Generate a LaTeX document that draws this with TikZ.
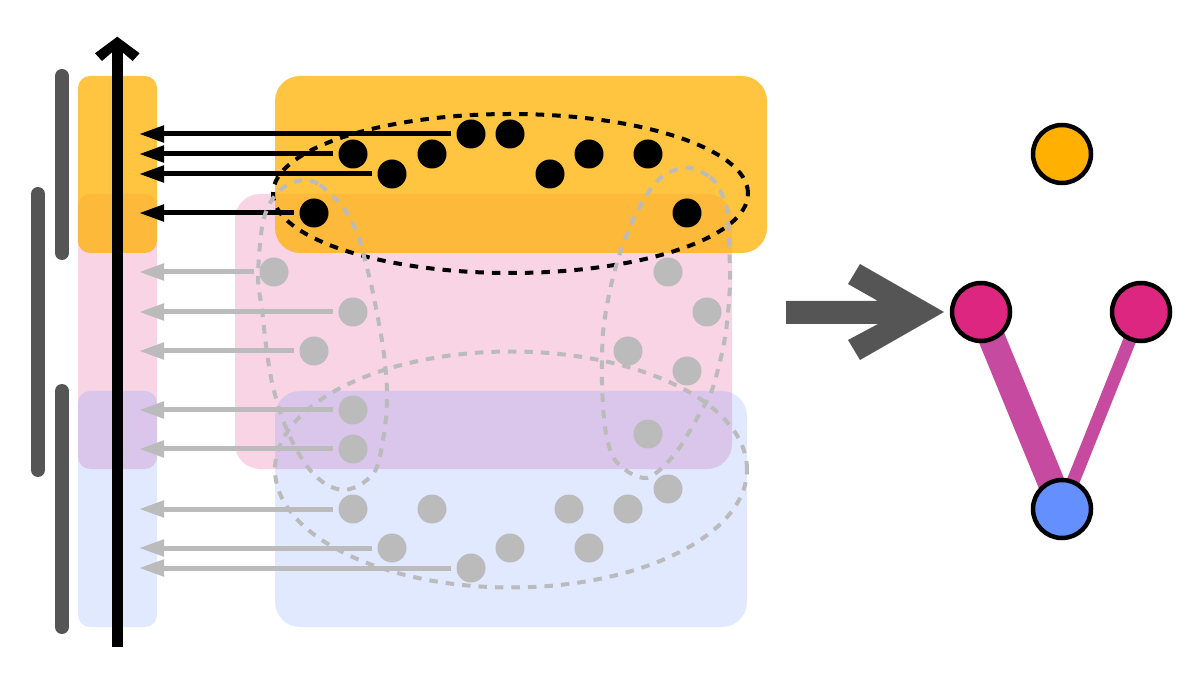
\documentclass[tikz,border=0pt]{standalone}
\usetikzlibrary{arrows.meta}
\definecolor{cOrange}{HTML}{FFB000}
\definecolor{cPink}{HTML}{DC267F}
\definecolor{cBlue}{HTML}{648FFF}
\definecolor{cGray}{HTML}{BBBBBB}
\definecolor{cDark}{HTML}{555555}
\definecolor{cEdge}{HTML}{C54AA0}
\tikzset{
  boxO/.style={fill=cOrange, fill opacity=0.75},
  boxP/.style={fill=cPink, fill opacity=0.2},
  boxB/.style={fill=cBlue, fill opacity=0.2},
  bdot/.style={circle, fill=black, minimum size=29pt, inner sep=0pt},
  gdot/.style={circle, fill=cGray, minimum size=29pt, inner sep=0pt},
  barr/.style={draw=black, line width=5pt, -{Triangle[length=25pt,width=16pt]}},
  garr/.style={barr, draw=cGray},
  bhull/.style={draw=black, line width=4pt, dash pattern=on 8.5pt off 8pt},
  ghull/.style={draw=cGray, line width=4pt, dash pattern=on 8.5pt off 8pt},
  gbar/.style={draw=cDark, line width=14pt, line cap=round},
  gnode/.style={circle, draw=black, line width=4.5pt, minimum size=58pt, inner sep=0pt},
}
\begin{document}
\begin{tikzpicture}[x=1pt,y=-1pt]
\useasboundingbox (0,0) rectangle (1181,684);
% side bars
\draw[gbar] (62,76) -- (62,253);
\draw[gbar] (38,194) -- (38,470);
\draw[gbar] (62,391) -- (62,627);
% left column boxes
\fill[boxP, rounded corners=12pt] (78,194) rectangle (157,469);
\fill[boxO, rounded corners=12pt] (78,76) rectangle (157,253);
\fill[boxB, rounded corners=12pt] (78,391) rectangle (157,627);
% big boxes
\fill[boxP, rounded corners=25pt] (235,194) rectangle (732,469);
\fill[boxO, rounded corners=25pt] (275,76) rectangle (767,253);
\fill[boxB, rounded corners=25pt] (275,391) rectangle (747,627);
% vertical axis
\coordinate (axb) at (117,647);
\coordinate (axt) at (117,46);
\draw[line width=11pt] (axb) -- (axt);
\fill (95,53.3) -- (117.3,36.7) -- (139.6,53.3) -- (132.6,61) -- (117.3,47.7) -- (102,61) -- cycle;
% black dots
\foreach \n/\x/\y in {d1/471/134, d2/510/134, d3/353/154, d4/432/154, d5/589/154,
  d6/648/154, d7/392/174, d8/550/174, d9/314/213, d10/687/213}
  \node[bdot] (\n) at (\x,\y) {};
% gray dots
\foreach \n/\x/\y in {g1/274/272, g2/353/312, g3/314/351, g4/353/410, g5/353/449,
  g6/353/509, g7/392/548, g8/432/509, g9/471/568, g10/510/548, g11/569/509,
  g12/589/548, g13/628/509, g14/668/489, g15/648/434, g16/628/351, g17/687/371,
  g18/707/312, g19/668/272}
  \node[gdot] (\n) at (\x,\y) {};
% arrow tips on the axis
\foreach \n/\y in {t1/134, t2/154, t3/174, t4/213, u1/272, u2/312, u3/351,
  u4/410, u5/449, u6/509, u7/548, u8/568}
  \coordinate (\n) at (139,\y);
\draw[barr] ([xshift=-5pt]d1.west) -- (t1);
\draw[barr] ([xshift=-5pt]d3.west) -- (t2);
\draw[barr] ([xshift=-5pt]d7.west) -- (t3);
\draw[barr] ([xshift=-5pt]d9.west) -- (t4);
\draw[garr] ([xshift=-5pt]g1.west) -- (u1);
\draw[garr] ([xshift=-5pt]g2.west) -- (u2);
\draw[garr] ([xshift=-5pt]g3.west) -- (u3);
\draw[garr] ([xshift=-5pt]g4.west) -- (u4);
\draw[garr] ([xshift=-5pt]g5.west) -- (u5);
\draw[garr] ([xshift=-5pt]g6.west) -- (u6);
\draw[garr] ([xshift=-5pt]g7.west) -- (u7);
\draw[garr] ([xshift=-5pt]g9.west) -- (u8);
% hulls
\draw[bhull] (510.5,193.5) ellipse [x radius=237.5pt, y radius=79.5pt];
\draw[ghull] (511,469.5) ellipse [x radius=236pt, y radius=118pt];
\draw[ghull] plot[smooth cycle] coordinates {(303,180) (320,185) (343,207) (357,233)
  (365,260) (373,293) (383,347) (387,390) (385,427) (377,467) (363,483) (345,490)
  (327,485) (310,470) (295,447) (283,420) (273,387) (267,353) (262,310) (258,277)
  (262,227) (270,203) (284,187)};
\draw[ghull] plot[smooth cycle] coordinates {(690,168) (710,177) (720,190) (727,210)
  (729,243) (730,283) (727,323) (722,353) (712,390) (700,413) (680,447) (663,467)
  (647,478) (630,473) (613,457) (605,427) (602,383) (603,333) (610,290) (620,253)
  (633,220) (650,190) (667,173)};
% big arrow
\fill[cDark] (786,301) -- (878,301) -- (848,284) -- (860,264) -- (944,312)
  -- (860,360) -- (848,340) -- (878,324) -- (786,324) -- cycle;
% graph
\draw[cEdge, line width=27pt] (981,312) -- (1062,509);
\draw[cEdge, line width=13pt] (1141,312) -- (1062,509);
\node[gnode, fill=cOrange] (nO) at (1062,154) {};
\node[gnode, fill=cPink] (nL) at (981,312) {};
\node[gnode, fill=cPink] (nR) at (1141,312) {};
\node[gnode, fill=cBlue] (nB) at (1062,509) {};
\end{tikzpicture}
\end{document}
